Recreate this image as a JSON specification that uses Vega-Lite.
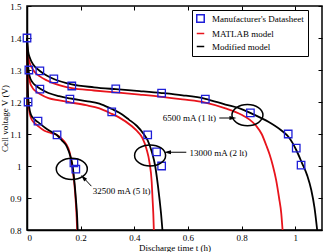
{
  "$schema": "https://vega.github.io/schema/vega-lite/v6.json",
  "width": 295,
  "height": 224,
  "autosize": "none",
  "padding": {"left": 27, "top": 6, "right": 3, "bottom": 22},
  "background": "white",
  "config": {
    "font": "Liberation Serif",
    "view": {"stroke": "black", "strokeWidth": 1.5},
    "axis": {
      "grid": false,
      "domainColor": "black",
      "domainWidth": 1.5,
      "tickColor": "black",
      "tickWidth": 1,
      "tickSize": -4,
      "labelColor": "black",
      "labelFont": "Liberation Serif",
      "labelFontSize": 9,
      "titleFont": "Liberation Serif",
      "titleFontSize": 9,
      "titleFontWeight": "normal",
      "titleColor": "black"
    },
    "legend": {
      "orient": "none",
      "legendX": 165,
      "legendY": 4,
      "title": null,
      "strokeColor": "black",
      "fillColor": "white",
      "padding": 4,
      "cornerRadius": 0,
      "labelFont": "Liberation Serif",
      "labelFontSize": 9,
      "labelColor": "black",
      "labelOffset": 7,
      "rowPadding": 3,
      "symbolSize": 56,
      "symbolStrokeWidth": 1.5
    }
  },
  "datasets": {
    "discharge": [
      {"source": "Manufacturer's Datasheet", "current": "6500", "t": 0, "V": 1.4},
      {"source": "Manufacturer's Datasheet", "current": "6500", "t": 0.048, "V": 1.297},
      {"source": "Manufacturer's Datasheet", "current": "6500", "t": 0.1, "V": 1.272},
      {"source": "Manufacturer's Datasheet", "current": "6500", "t": 0.167, "V": 1.25},
      {"source": "Manufacturer's Datasheet", "current": "6500", "t": 0.331, "V": 1.241},
      {"source": "Manufacturer's Datasheet", "current": "6500", "t": 0.502, "V": 1.228},
      {"source": "Manufacturer's Datasheet", "current": "6500", "t": 0.665, "V": 1.209},
      {"source": "Manufacturer's Datasheet", "current": "6500", "t": 0.833, "V": 1.166},
      {"source": "Manufacturer's Datasheet", "current": "6500", "t": 0.974, "V": 1.1},
      {"source": "Manufacturer's Datasheet", "current": "6500", "t": 1.004, "V": 1.056},
      {"source": "Manufacturer's Datasheet", "current": "6500", "t": 1.022, "V": 1.003},
      {"source": "Manufacturer's Datasheet", "current": "13000", "t": 0.007, "V": 1.3},
      {"source": "Manufacturer's Datasheet", "current": "13000", "t": 0.048, "V": 1.24},
      {"source": "Manufacturer's Datasheet", "current": "13000", "t": 0.16, "V": 1.209},
      {"source": "Manufacturer's Datasheet", "current": "13000", "t": 0.316, "V": 1.169},
      {"source": "Manufacturer's Datasheet", "current": "13000", "t": 0.45, "V": 1.097},
      {"source": "Manufacturer's Datasheet", "current": "13000", "t": 0.483, "V": 1.044},
      {"source": "Manufacturer's Datasheet", "current": "13000", "t": 0.502, "V": 1.0},
      {"source": "Manufacturer's Datasheet", "current": "32500", "t": 0.004, "V": 1.2},
      {"source": "Manufacturer's Datasheet", "current": "32500", "t": 0.041, "V": 1.14},
      {"source": "Manufacturer's Datasheet", "current": "32500", "t": 0.112, "V": 1.097},
      {"source": "Manufacturer's Datasheet", "current": "32500", "t": 0.175, "V": 1.01},
      {"source": "Manufacturer's Datasheet", "current": "32500", "t": 0.182, "V": 0.99},

      {"source": "MATLAB model", "current": "6500", "t": 0, "V": 1.385},
      {"source": "MATLAB model", "current": "6500", "t": 0.004, "V": 1.345},
      {"source": "MATLAB model", "current": "6500", "t": 0.012, "V": 1.318},
      {"source": "MATLAB model", "current": "6500", "t": 0.025, "V": 1.298},
      {"source": "MATLAB model", "current": "6500", "t": 0.048, "V": 1.28},
      {"source": "MATLAB model", "current": "6500", "t": 0.075, "V": 1.267},
      {"source": "MATLAB model", "current": "6500", "t": 0.1, "V": 1.258},
      {"source": "MATLAB model", "current": "6500", "t": 0.167, "V": 1.243},
      {"source": "MATLAB model", "current": "6500", "t": 0.25, "V": 1.236},
      {"source": "MATLAB model", "current": "6500", "t": 0.331, "V": 1.23},
      {"source": "MATLAB model", "current": "6500", "t": 0.42, "V": 1.223},
      {"source": "MATLAB model", "current": "6500", "t": 0.502, "V": 1.216},
      {"source": "MATLAB model", "current": "6500", "t": 0.58, "V": 1.208},
      {"source": "MATLAB model", "current": "6500", "t": 0.665, "V": 1.198},
      {"source": "MATLAB model", "current": "6500", "t": 0.74, "V": 1.18},
      {"source": "MATLAB model", "current": "6500", "t": 0.8, "V": 1.16},
      {"source": "MATLAB model", "current": "6500", "t": 0.83, "V": 1.145},
      {"source": "MATLAB model", "current": "6500", "t": 0.855, "V": 1.125},
      {"source": "MATLAB model", "current": "6500", "t": 0.875, "V": 1.1},
      {"source": "MATLAB model", "current": "6500", "t": 0.892, "V": 1.065},
      {"source": "MATLAB model", "current": "6500", "t": 0.905, "V": 1.035},
      {"source": "MATLAB model", "current": "6500", "t": 0.917, "V": 1.0},
      {"source": "MATLAB model", "current": "6500", "t": 0.929, "V": 0.956},
      {"source": "MATLAB model", "current": "6500", "t": 0.94, "V": 0.9},
      {"source": "MATLAB model", "current": "6500", "t": 0.948, "V": 0.853},
      {"source": "MATLAB model", "current": "6500", "t": 0.953, "V": 0.8},

      {"source": "MATLAB model", "current": "13000", "t": 0, "V": 1.385},
      {"source": "MATLAB model", "current": "13000", "t": 0.002, "V": 1.33},
      {"source": "MATLAB model", "current": "13000", "t": 0.005, "V": 1.29},
      {"source": "MATLAB model", "current": "13000", "t": 0.01, "V": 1.265},
      {"source": "MATLAB model", "current": "13000", "t": 0.02, "V": 1.245},
      {"source": "MATLAB model", "current": "13000", "t": 0.035, "V": 1.232},
      {"source": "MATLAB model", "current": "13000", "t": 0.048, "V": 1.225},
      {"source": "MATLAB model", "current": "13000", "t": 0.08, "V": 1.212},
      {"source": "MATLAB model", "current": "13000", "t": 0.12, "V": 1.205},
      {"source": "MATLAB model", "current": "13000", "t": 0.16, "V": 1.199},
      {"source": "MATLAB model", "current": "13000", "t": 0.22, "V": 1.19},
      {"source": "MATLAB model", "current": "13000", "t": 0.27, "V": 1.18},
      {"source": "MATLAB model", "current": "13000", "t": 0.316, "V": 1.163},
      {"source": "MATLAB model", "current": "13000", "t": 0.343, "V": 1.152},
      {"source": "MATLAB model", "current": "13000", "t": 0.39, "V": 1.125},
      {"source": "MATLAB model", "current": "13000", "t": 0.415, "V": 1.105},
      {"source": "MATLAB model", "current": "13000", "t": 0.43, "V": 1.088},
      {"source": "MATLAB model", "current": "13000", "t": 0.445, "V": 1.055},
      {"source": "MATLAB model", "current": "13000", "t": 0.457, "V": 1.01},
      {"source": "MATLAB model", "current": "13000", "t": 0.465, "V": 0.95},
      {"source": "MATLAB model", "current": "13000", "t": 0.468, "V": 0.9},
      {"source": "MATLAB model", "current": "13000", "t": 0.471, "V": 0.85},
      {"source": "MATLAB model", "current": "13000", "t": 0.473, "V": 0.8},

      {"source": "MATLAB model", "current": "32500", "t": 0, "V": 1.385},
      {"source": "MATLAB model", "current": "32500", "t": 0.001, "V": 1.32},
      {"source": "MATLAB model", "current": "32500", "t": 0.002, "V": 1.26},
      {"source": "MATLAB model", "current": "32500", "t": 0.004, "V": 1.21},
      {"source": "MATLAB model", "current": "32500", "t": 0.008, "V": 1.175},
      {"source": "MATLAB model", "current": "32500", "t": 0.015, "V": 1.15},
      {"source": "MATLAB model", "current": "32500", "t": 0.025, "V": 1.137},
      {"source": "MATLAB model", "current": "32500", "t": 0.041, "V": 1.125},
      {"source": "MATLAB model", "current": "32500", "t": 0.065, "V": 1.11},
      {"source": "MATLAB model", "current": "32500", "t": 0.09, "V": 1.103},
      {"source": "MATLAB model", "current": "32500", "t": 0.112, "V": 1.097},
      {"source": "MATLAB model", "current": "32500", "t": 0.13, "V": 1.085},
      {"source": "MATLAB model", "current": "32500", "t": 0.145, "V": 1.07},
      {"source": "MATLAB model", "current": "32500", "t": 0.16, "V": 1.04},
      {"source": "MATLAB model", "current": "32500", "t": 0.17, "V": 0.99},
      {"source": "MATLAB model", "current": "32500", "t": 0.177, "V": 0.94},
      {"source": "MATLAB model", "current": "32500", "t": 0.182, "V": 0.885},
      {"source": "MATLAB model", "current": "32500", "t": 0.185, "V": 0.84},
      {"source": "MATLAB model", "current": "32500", "t": 0.187, "V": 0.8},

      {"source": "Modified model", "current": "6500", "t": 0, "V": 1.4},
      {"source": "Modified model", "current": "6500", "t": 0.004, "V": 1.36},
      {"source": "Modified model", "current": "6500", "t": 0.012, "V": 1.335},
      {"source": "Modified model", "current": "6500", "t": 0.025, "V": 1.315},
      {"source": "Modified model", "current": "6500", "t": 0.048, "V": 1.297},
      {"source": "Modified model", "current": "6500", "t": 0.075, "V": 1.282},
      {"source": "Modified model", "current": "6500", "t": 0.1, "V": 1.272},
      {"source": "Modified model", "current": "6500", "t": 0.167, "V": 1.255},
      {"source": "Modified model", "current": "6500", "t": 0.25, "V": 1.246},
      {"source": "Modified model", "current": "6500", "t": 0.331, "V": 1.24},
      {"source": "Modified model", "current": "6500", "t": 0.42, "V": 1.234},
      {"source": "Modified model", "current": "6500", "t": 0.502, "V": 1.228},
      {"source": "Modified model", "current": "6500", "t": 0.58, "V": 1.221},
      {"source": "Modified model", "current": "6500", "t": 0.665, "V": 1.21},
      {"source": "Modified model", "current": "6500", "t": 0.74, "V": 1.192},
      {"source": "Modified model", "current": "6500", "t": 0.8, "V": 1.178},
      {"source": "Modified model", "current": "6500", "t": 0.84, "V": 1.163},
      {"source": "Modified model", "current": "6500", "t": 0.9, "V": 1.138},
      {"source": "Modified model", "current": "6500", "t": 0.95, "V": 1.11},
      {"source": "Modified model", "current": "6500", "t": 0.974, "V": 1.092},
      {"source": "Modified model", "current": "6500", "t": 1.004, "V": 1.05},
      {"source": "Modified model", "current": "6500", "t": 1.025, "V": 1.01},
      {"source": "Modified model", "current": "6500", "t": 1.045, "V": 0.97},
      {"source": "Modified model", "current": "6500", "t": 1.06, "V": 0.925},
      {"source": "Modified model", "current": "6500", "t": 1.072, "V": 0.87},
      {"source": "Modified model", "current": "6500", "t": 1.082, "V": 0.8},

      {"source": "Modified model", "current": "13000", "t": 0, "V": 1.4},
      {"source": "Modified model", "current": "13000", "t": 0.002, "V": 1.34},
      {"source": "Modified model", "current": "13000", "t": 0.005, "V": 1.305},
      {"source": "Modified model", "current": "13000", "t": 0.01, "V": 1.28},
      {"source": "Modified model", "current": "13000", "t": 0.02, "V": 1.262},
      {"source": "Modified model", "current": "13000", "t": 0.035, "V": 1.25},
      {"source": "Modified model", "current": "13000", "t": 0.048, "V": 1.242},
      {"source": "Modified model", "current": "13000", "t": 0.08, "V": 1.228},
      {"source": "Modified model", "current": "13000", "t": 0.12, "V": 1.218},
      {"source": "Modified model", "current": "13000", "t": 0.16, "V": 1.211},
      {"source": "Modified model", "current": "13000", "t": 0.22, "V": 1.203},
      {"source": "Modified model", "current": "13000", "t": 0.27, "V": 1.195},
      {"source": "Modified model", "current": "13000", "t": 0.316, "V": 1.178},
      {"source": "Modified model", "current": "13000", "t": 0.343, "V": 1.167},
      {"source": "Modified model", "current": "13000", "t": 0.38, "V": 1.145},
      {"source": "Modified model", "current": "13000", "t": 0.41, "V": 1.125},
      {"source": "Modified model", "current": "13000", "t": 0.435, "V": 1.1},
      {"source": "Modified model", "current": "13000", "t": 0.45, "V": 1.08},
      {"source": "Modified model", "current": "13000", "t": 0.465, "V": 1.045},
      {"source": "Modified model", "current": "13000", "t": 0.478, "V": 1.0},
      {"source": "Modified model", "current": "13000", "t": 0.488, "V": 0.94},
      {"source": "Modified model", "current": "13000", "t": 0.495, "V": 0.89},
      {"source": "Modified model", "current": "13000", "t": 0.5, "V": 0.85},
      {"source": "Modified model", "current": "13000", "t": 0.505, "V": 0.8},

      {"source": "Modified model", "current": "32500", "t": 0, "V": 1.4},
      {"source": "Modified model", "current": "32500", "t": 0.001, "V": 1.33},
      {"source": "Modified model", "current": "32500", "t": 0.002, "V": 1.27},
      {"source": "Modified model", "current": "32500", "t": 0.004, "V": 1.22},
      {"source": "Modified model", "current": "32500", "t": 0.008, "V": 1.185},
      {"source": "Modified model", "current": "32500", "t": 0.015, "V": 1.16},
      {"source": "Modified model", "current": "32500", "t": 0.025, "V": 1.148},
      {"source": "Modified model", "current": "32500", "t": 0.041, "V": 1.137},
      {"source": "Modified model", "current": "32500", "t": 0.07, "V": 1.118},
      {"source": "Modified model", "current": "32500", "t": 0.095, "V": 1.105},
      {"source": "Modified model", "current": "32500", "t": 0.112, "V": 1.096},
      {"source": "Modified model", "current": "32500", "t": 0.13, "V": 1.08},
      {"source": "Modified model", "current": "32500", "t": 0.149, "V": 1.06},
      {"source": "Modified model", "current": "32500", "t": 0.162, "V": 1.03},
      {"source": "Modified model", "current": "32500", "t": 0.17, "V": 1.0},
      {"source": "Modified model", "current": "32500", "t": 0.178, "V": 0.94},
      {"source": "Modified model", "current": "32500", "t": 0.183, "V": 0.89},
      {"source": "Modified model", "current": "32500", "t": 0.187, "V": 0.84},
      {"source": "Modified model", "current": "32500", "t": 0.189, "V": 0.8}
    ],
    "callouts": [
      {"current": "6500", "label": "6500 mA (1 lt)", "ringT": 0.822, "ringV": 1.159, "textT": 0.705, "textV": 1.15, "fromT": 0.717, "fromV": 1.15, "toT": 0.768, "toV": 1.15},
      {"current": "13000", "label": "13000 mA (2 lt)", "ringT": 0.459, "ringV": 1.033, "textT": 0.606, "textV": 1.041, "fromT": 0.594, "fromV": 1.043, "toT": 0.524, "toV": 1.043},
      {"current": "32500", "label": "32500 mA (5 lt)", "ringT": 0.167, "ringV": 0.991, "textT": 0.245, "textV": 0.922, "fromT": 0.24, "fromV": 0.937, "toT": 0.21, "toV": 0.964}
    ]
  },
  "resolve": {"axis": {"x": "independent", "y": "independent"}},
  "layer": [
    {
      "data": {"name": "discharge"},
      "transform": [{"filter": "datum.source !== \"Manufacturer's Datasheet\""}],
      "mark": {"type": "line", "strokeWidth": 1.8, "interpolate": "monotone"},
      "encoding": {
        "x": {
          "field": "t", "type": "quantitative",
          "scale": {"domain": [0, 1.1], "nice": false, "zero": false},
          "axis": {"orient": "bottom", "title": "Discharge time t (h)", "values": [0, 0.2, 0.4, 0.6, 0.8, 1], "format": "~g", "labelPadding": 7, "titlePadding": 1}
        },
        "y": {
          "field": "V", "type": "quantitative",
          "scale": {"domain": [0.8, 1.5], "nice": false, "zero": false},
          "axis": {"orient": "left", "title": "Cell voltage V (V)", "values": [0.8, 0.9, 1, 1.1, 1.2, 1.3, 1.4, 1.5], "format": "~g", "labelPadding": 10, "titlePadding": 0}
        },
        "color": {
          "field": "source", "type": "nominal",
          "scale": {"domain": ["Manufacturer's Datasheet", "MATLAB model", "Modified model"], "range": ["#1f1fd8", "#e8141c", "#000000"]}
        },
        "detail": {"field": "current"}
      }
    },
    {
      "data": {"name": "discharge"},
      "transform": [{"filter": "datum.source === \"Manufacturer's Datasheet\""}],
      "mark": {"type": "point", "filled": false, "size": 56, "strokeWidth": 1.3, "opacity": 1},
      "encoding": {
        "x": {"field": "t", "type": "quantitative", "axis": null},
        "y": {"field": "V", "type": "quantitative", "axis": null},
        "color": {"field": "source", "type": "nominal"},
        "shape": {
          "field": "source", "type": "nominal",
          "scale": {"domain": ["Manufacturer's Datasheet", "MATLAB model", "Modified model"], "range": ["square", "stroke", "stroke"]}
        }
      }
    },
    {
      "data": {"name": "callouts"},
      "mark": {"type": "point", "filled": false, "stroke": "black", "strokeWidth": 1.5, "size": 961, "opacity": 1,
               "shape": "M-1,0A1,0.68,0,1,1,1,0A1,0.68,0,1,1,-1,0Z"},
      "encoding": {
        "x": {"field": "ringT", "type": "quantitative",
              "axis": {"orient": "top", "labels": false, "title": null, "domain": false, "values": [0, 0.2, 0.4, 0.6, 0.8, 1]}},
        "y": {"field": "ringV", "type": "quantitative",
              "axis": {"orient": "right", "labels": false, "title": null, "domain": false, "values": [0.8, 0.9, 1, 1.1, 1.2, 1.3, 1.4, 1.5]}}
      }
    },
    {
      "data": {"name": "callouts"},
      "mark": {"type": "rule", "stroke": "black", "strokeWidth": 1},
      "encoding": {
        "x": {"field": "fromT", "type": "quantitative", "axis": null},
        "y": {"field": "fromV", "type": "quantitative", "axis": null},
        "x2": {"field": "toT"},
        "y2": {"field": "toV"}
      }
    },
    {
      "data": {"name": "callouts"},
      "transform": [{"filter": "datum.current === '6500'"}],
      "mark": {"type": "point", "shape": "M1,0L-1,-0.55L-1,0.55Z", "filled": true, "color": "black", "size": 49, "angle": 0, "opacity": 1},
      "encoding": {
        "x": {"field": "toT", "type": "quantitative", "axis": null},
        "y": {"field": "toV", "type": "quantitative", "axis": null}
      }
    },
    {
      "data": {"name": "callouts"},
      "transform": [{"filter": "datum.current === '13000'"}],
      "mark": {"type": "point", "shape": "M1,0L-1,-0.55L-1,0.55Z", "filled": true, "color": "black", "size": 49, "angle": 180, "opacity": 1},
      "encoding": {
        "x": {"field": "toT", "type": "quantitative", "axis": null},
        "y": {"field": "toV", "type": "quantitative", "axis": null}
      }
    },
    {
      "data": {"name": "callouts"},
      "transform": [{"filter": "datum.current === '32500'"}],
      "mark": {"type": "point", "shape": "M1,0L-1,-0.55L-1,0.55Z", "filled": true, "color": "black", "size": 49, "angle": 228, "opacity": 1},
      "encoding": {
        "x": {"field": "toT", "type": "quantitative", "axis": null},
        "y": {"field": "toV", "type": "quantitative", "axis": null}
      }
    },
    {
      "data": {"name": "callouts"},
      "transform": [{"filter": "datum.current === '6500'"}],
      "mark": {"type": "text", "align": "right", "baseline": "middle", "font": "Liberation Serif", "fontSize": 9, "color": "black"},
      "encoding": {
        "x": {"field": "textT", "type": "quantitative", "axis": null},
        "y": {"field": "textV", "type": "quantitative", "axis": null},
        "text": {"field": "label"}
      }
    },
    {
      "data": {"name": "callouts"},
      "transform": [{"filter": "datum.current !== '6500'"}],
      "mark": {"type": "text", "align": "left", "baseline": "middle", "font": "Liberation Serif", "fontSize": 9, "color": "black"},
      "encoding": {
        "x": {"field": "textT", "type": "quantitative", "axis": null},
        "y": {"field": "textV", "type": "quantitative", "axis": null},
        "text": {"field": "label"}
      }
    }
  ]
}
